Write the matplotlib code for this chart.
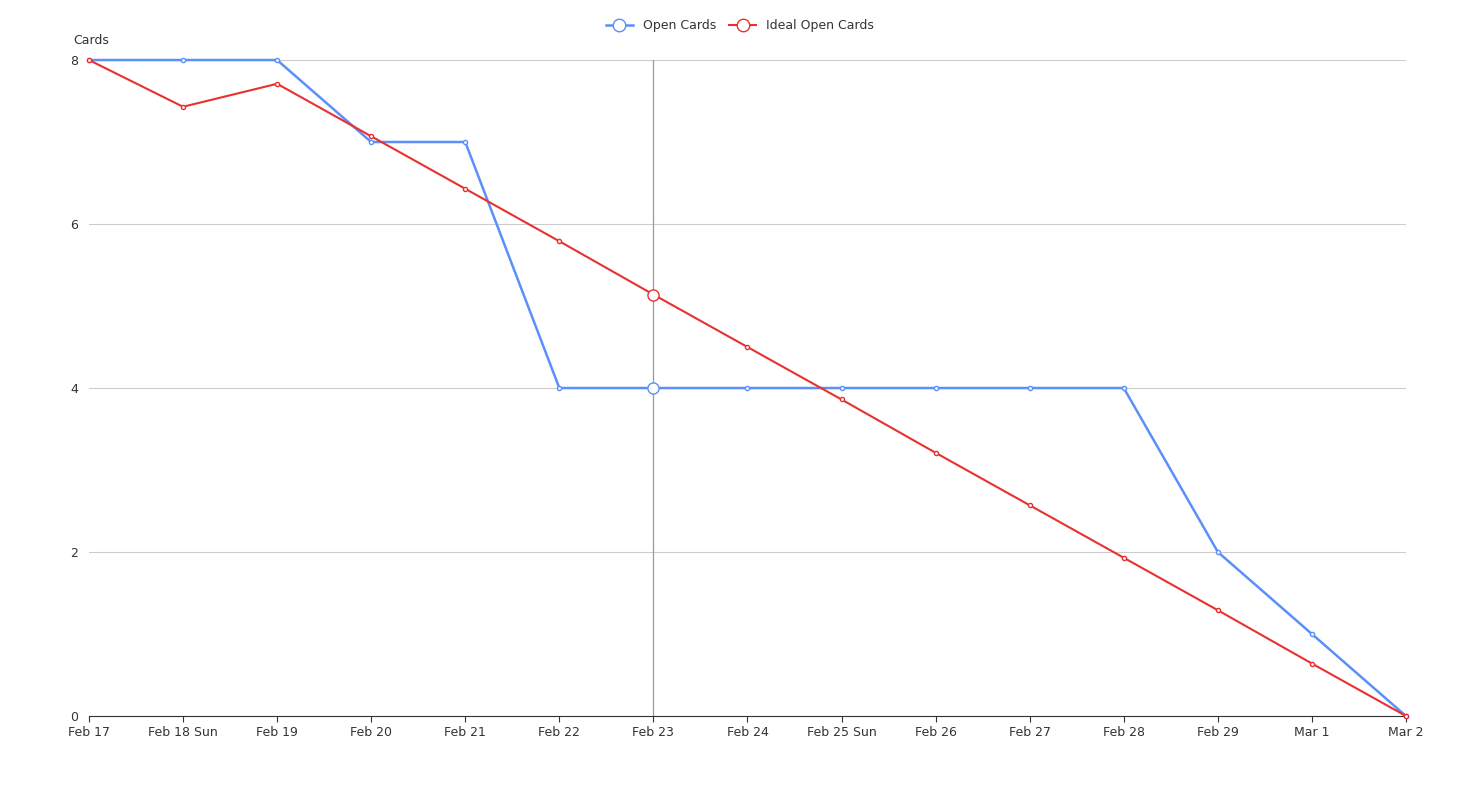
import matplotlib
matplotlib.use("Agg")
import matplotlib.pyplot as plt

dates = ["Feb 17","Feb 18 Sun","Feb 19","Feb 20","Feb 21","Feb 22","Feb 23","Feb 24",
         "Feb 25 Sun","Feb 26","Feb 27","Feb 28","Feb 29","Mar 1","Mar 2"]
open_cards = [8,8,8,7,7,4,4,4,4,4,4,4,2,1,0]
ideal_cards = [8,7.43,7.71,7.07,6.43,5.79,5.14,4.5,3.86,3.21,2.57,1.93,1.29,0.64,0]
hover_idx = 6

blue = "#5b8ff9"; red = "#e8312f"
fig = plt.figure(figsize=(14.8,7.97), dpi=100)
ax = fig.add_axes([0.0601,0.1016,0.8899,0.8231])
x = list(range(len(dates)))
ax.plot(x, open_cards, color=blue, lw=1.8, marker='o', ms=3, mfc='white', mew=1, label="Open Cards", zorder=3, clip_on=False)
ax.plot(x, ideal_cards, color=red, lw=1.5, marker='o', ms=3, mfc='white', mew=1, label="Ideal Open Cards", zorder=4, clip_on=False)
ax.plot([hover_idx],[open_cards[hover_idx]], 'o', ms=8, mfc='white', mec=blue, mew=1, zorder=5)
ax.plot([hover_idx],[ideal_cards[hover_idx]], 'o', ms=8, mfc='white', mec=red, mew=1, zorder=5)
ax.axvline(hover_idx, color='#999999', lw=0.9, zorder=2)
ax.set_xlim(0, len(dates)-1)
ax.set_ylim(0, 8)
ax.set_yticks([0,2,4,6,8])
ax.set_xticks(x)
ax.set_xticklabels(dates)
ax.grid(axis='y', color='#cccccc', lw=0.8)
for s in ['top','right','left']:
    ax.spines[s].set_visible(False)
ax.spines['bottom'].set_color('#333333')
ax.tick_params(axis='y', length=0, labelsize=9, colors='#333333', pad=8)
ax.tick_params(axis='x', length=4, labelsize=9, colors='#333333')
ax.text(-0.17, 8.2, "Cards", fontsize=9, color='#333333')
leg = fig.legend(loc='upper center', bbox_to_anchor=(0.5,0.99), ncol=2, frameon=False, fontsize=9, handlelength=2.2, markerscale=3, columnspacing=1.0)
for t in leg.get_texts(): t.set_color('#333333')
fig.savefig("out.png", dpi=100)
